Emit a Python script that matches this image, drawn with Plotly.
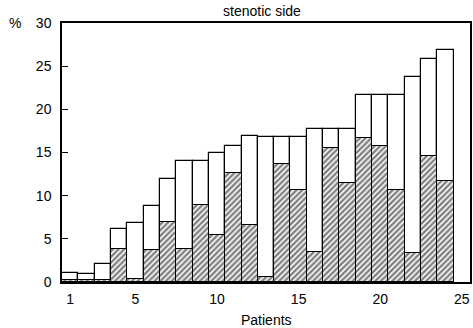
import plotly.graph_objects as go

patients = list(range(1, 25))
total_pct = [1.0, 0.9, 2.1, 6.1, 6.8, 8.8, 11.9, 14.0, 14.0, 15.0, 15.8, 16.9,
             16.8, 16.8, 16.8, 17.7, 17.7, 17.7, 21.7, 21.7, 21.7, 23.7, 25.8, 26.9]
hatched_pct = [0.2, 0.2, 0.2, 3.8, 0.3, 3.7, 7.0, 3.8, 8.9, 5.5, 12.6, 6.6,
               0.6, 13.7, 10.6, 3.5, 15.5, 11.5, 16.7, 15.7, 10.7, 3.4, 14.6, 11.7]
x_ticks = [1, 5, 10, 15, 20, 25]
y_ticks = [0, 5, 10, 15, 20, 25, 30]

FONT = "Liberation Sans, Arial, sans-serif"

fig = go.Figure()
fig.add_trace(go.Bar(
    x=patients, y=total_pct, width=1,
    marker=dict(color="white", line=dict(color="black", width=1.2)),
    showlegend=False,
))
fig.add_trace(go.Bar(
    x=patients, y=hatched_pct, width=1,
    marker=dict(color="white",
                line=dict(color="black", width=1),
                pattern=dict(shape="/", fgcolor="black", bgcolor="white",
                             size=4, solidity=0.6)),
    showlegend=False,
))

fig.update_layout(
    width=473, height=328,
    margin=dict(l=62, r=1, t=23, b=46),
    barmode="overlay",
    bargap=0,
    plot_bgcolor="white", paper_bgcolor="white",
    font=dict(family=FONT, size=14, color="black"),
    xaxis=dict(range=[0.5, 25.5], tickvals=x_ticks, ticks="",
               showgrid=False, zeroline=False, showline=True,
               linecolor="black", linewidth=1.5, mirror=True,
               ticklabelstandoff=3),
    yaxis=dict(range=[0, 30], tickvals=y_ticks, ticks="inside", ticklen=6,
               tickcolor="black", showgrid=False, zeroline=False,
               showline=True, linecolor="black", linewidth=1.5, mirror=True,
               ticklabelstandoff=6),
    annotations=[
        dict(text="stenotic side", xref="paper", yref="paper", x=0.49, y=1.0,
             xanchor="center", yanchor="bottom", yshift=2, showarrow=False,
             font=dict(size=14)),
        dict(text="%", xref="paper", yref="paper", x=-0.115, y=1.0,
             xanchor="center", yanchor="middle", showarrow=False,
             font=dict(size=14)),
        dict(text="Patients", xref="paper", yref="paper", x=0.5, y=0,
             xanchor="center", yanchor="middle", yshift=-38, showarrow=False,
             font=dict(size=14)),
    ],
)

fig.write_html("out.html")
